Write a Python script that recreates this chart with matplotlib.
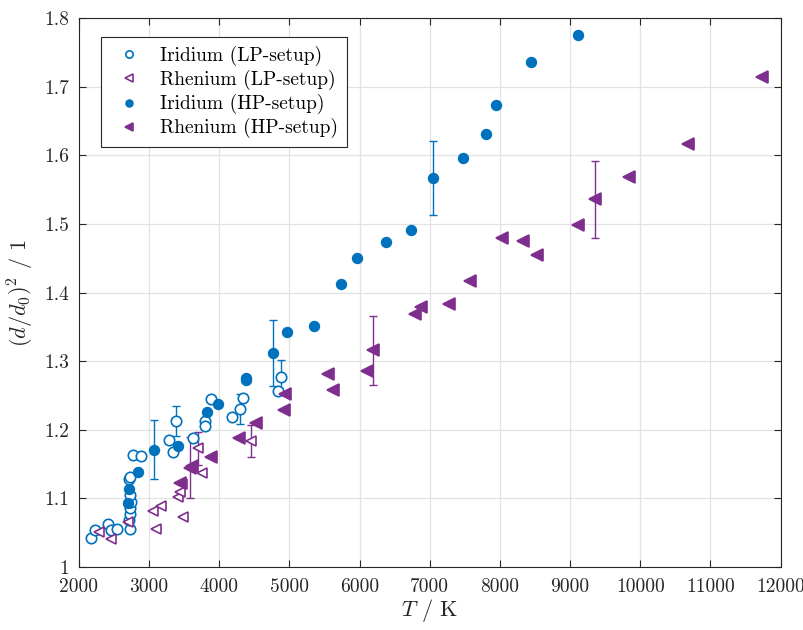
import matplotlib
matplotlib.use('Agg')
import matplotlib.pyplot as plt
import numpy as np

plt.rcParams['font.family'] = 'serif'
plt.rcParams['font.serif'] = ['cmr10']
plt.rcParams['mathtext.fontset'] = 'cm'
plt.rcParams['axes.formatter.use_mathtext'] = True

# Iridium, LP-setup
ir_lp_T = [2180, 2230, 2420, 2460, 2550, 2730, 2715, 2725, 2725, 2740, 2730, 2710, 2735,
           2770, 2880, 3280, 3340, 3390, 3630, 3890, 3800, 3800, 4180, 4290, 4340, 4880, 4840]
ir_lp_y = [1.043, 1.054, 1.062, 1.054, 1.055, 1.056, 1.068, 1.077, 1.086, 1.095, 1.105, 1.129, 1.131,
           1.164, 1.162, 1.185, 1.167, 1.213, 1.188, 1.245, 1.213, 1.206, 1.219, 1.230, 1.247, 1.277, 1.257]
ir_lp_err = [0, 0, 0, 0, 0, 0, 0, 0, 0, 0, 0, 0, 0,
             0, 0, 0, 0, 0.022, 0, 0, 0, 0, 0, 0.022, 0, 0.025, 0]

# Rhenium, LP-setup
re_lp_T = [2285, 2465, 2700, 3060, 3170, 3105, 3415, 3445, 3475, 3485, 3700, 3760, 4460]
re_lp_y = [1.051, 1.041, 1.065, 1.081, 1.089, 1.056, 1.102, 1.110, 1.121, 1.073, 1.173, 1.137, 1.184]
re_lp_err = [0, 0, 0, 0, 0, 0, 0, 0, 0, 0, 0.024, 0, 0.023]

# Iridium, HP-setup
ir_hp_T = [2700, 2710, 2840, 3070, 3410, 3830, 3990, 4380, 4380, 4760, 4960, 5350, 5730,
           5960, 6370, 6740, 7040, 7480, 7800, 7950, 8440, 9110]
ir_hp_y = [1.093, 1.114, 1.138, 1.171, 1.176, 1.226, 1.238, 1.272, 1.275, 1.312, 1.343, 1.351, 1.412,
           1.450, 1.474, 1.491, 1.567, 1.596, 1.631, 1.673, 1.736, 1.775]
ir_hp_err = [0, 0, 0, 0.043, 0, 0, 0, 0, 0, 0.048, 0, 0, 0,
             0, 0, 0, 0.054, 0, 0, 0, 0, 0]

# Rhenium, HP-setup
re_hp_T = [3440, 3580, 3615, 3890, 4280, 4530, 4935, 4920, 5550, 5620, 6100, 6190, 6790,
           6870, 7270, 7570, 8030, 8330, 8530, 9110, 9360, 9835, 10680, 11740]
re_hp_y = [1.122, 1.145, 1.147, 1.161, 1.188, 1.210, 1.252, 1.229, 1.281, 1.258, 1.286, 1.316, 1.369,
           1.379, 1.383, 1.417, 1.480, 1.476, 1.455, 1.499, 1.536, 1.568, 1.617, 1.714]
re_hp_err = [0, 0.044, 0, 0, 0, 0, 0, 0, 0, 0, 0, 0.050, 0,
             0, 0, 0, 0, 0, 0, 0, 0.056, 0, 0, 0]

blue = '#0072BD'
purple = '#7E2F8E'

fig = plt.figure(figsize=(8.04, 6.3), dpi=100)
ax = fig.add_axes([0.098, 0.1, 0.873, 0.871])


def draw(T, y, err, marker, filled, color, label, ms):
    T = np.array(T); y = np.array(y); err = np.array(err)
    m = err > 0
    ax.errorbar(T[m], y[m], yerr=err[m], fmt='none', ecolor=color, elinewidth=1.0,
                capsize=3, capthick=1.0, zorder=2)
    ax.plot(T, y, linestyle='none', marker=marker, markersize=ms,
            markerfacecolor=color if filled else 'white', markeredgecolor=color,
            markeredgewidth=1.2, label=label, zorder=3)


draw(ir_lp_T, ir_lp_y, ir_lp_err, 'o', False, blue, 'Iridium (LP-setup)', 7.5)
draw(re_lp_T, re_lp_y, re_lp_err, '<', False, purple, 'Rhenium (LP-setup)', 7.5)
draw(ir_hp_T, ir_hp_y, ir_hp_err, 'o', True, blue, 'Iridium (HP-setup)', 7)
draw(re_hp_T, re_hp_y, re_hp_err, '<', True, purple, 'Rhenium (HP-setup)', 8)

ax.set_xlim(2000, 12000)
ax.set_ylim(1.0, 1.8)
ax.set_xticks(np.arange(2000, 12001, 1000))
ax.set_yticks(np.arange(1.0, 1.81, 0.1))
ax.set_xticklabels([str(v) for v in range(2000, 12001, 1000)])
ax.set_yticklabels(['1', '1.1', '1.2', '1.3', '1.4', '1.5', '1.6', '1.7', '1.8'])
ax.tick_params(direction='in', top=True, right=True, labelsize=14, colors='#262626',
               length=5, width=0.8)
ax.tick_params(axis='x', pad=8)
ax.tick_params(axis='y', pad=7)
ax.grid(True, color='#e3e3e3', linewidth=0.9)
ax.set_axisbelow(True)
for s in ax.spines.values():
    s.set_color('#262626')
    s.set_linewidth(0.8)

ax.set_xlabel(r'$T$ / K', fontsize=16, color='#262626', labelpad=1)
ax.set_ylabel(r'$(d/d_0)^2$ / 1', fontsize=16, color='#262626', labelpad=6)

leg = ax.legend(loc='upper left', bbox_to_anchor=(0.031, 0.965), borderaxespad=0,
                fontsize=14, frameon=True, fancybox=False, edgecolor='#262626',
                framealpha=1, handletextpad=0.6, borderpad=0.45, labelspacing=0.2,
                markerscale=0.7, handlelength=2.0)
leg.get_frame().set_linewidth(0.8)

fig.savefig('out.png', dpi=100)
